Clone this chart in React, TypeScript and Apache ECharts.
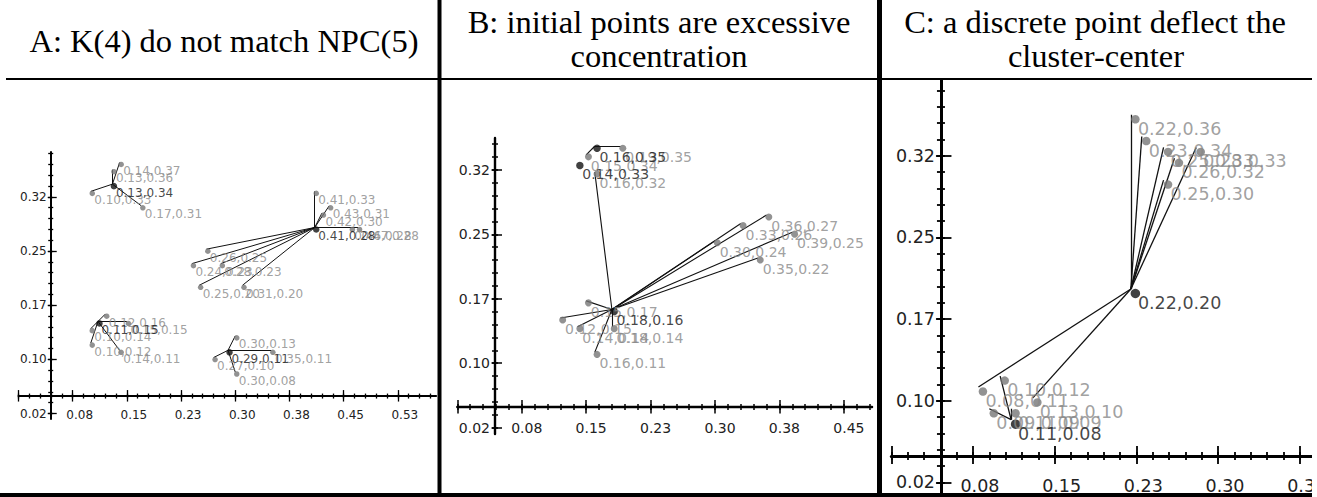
import { useEffect, useRef } from 'react';
import * as echarts from 'echarts';

// ---------- shared axis ticks ----------
const xMajorTicks = [0, 0.075, 0.15, 0.225, 0.3, 0.375, 0.45, 0.525];
const xTickLabels = ['', '0.08', '0.15', '0.23', '0.30', '0.38', '0.45', '0.53'];
const yMajorTicks = [0.0225, 0.0975, 0.1725, 0.2475, 0.3225, 0.3975];
const yTickLabels = ['0.02', '0.10', '0.17', '0.25', '0.32', '0.40'];
const minorStep = 0.015;

// ---------- titles ----------
const titleA = ['A: K(4) do not match NPC(5)'];
const titleB = ['B: initial points are excessive', 'concentration'];
const titleC = ['C: a discrete point deflect the', 'cluster-center'];

// ---------- panel A ----------
const aCenters = [[0.13, 0.34], [0.41, 0.28], [0.11, 0.15], [0.29, 0.11]];
const aPoints = [
  [0.14, 0.37], [0.13, 0.36], [0.10, 0.33], [0.17, 0.31],
  [0.41, 0.33], [0.43, 0.31], [0.42, 0.30], [0.46, 0.28], [0.47, 0.28],
  [0.26, 0.25], [0.24, 0.23], [0.28, 0.23], [0.25, 0.20], [0.31, 0.20],
  [0.15, 0.15], [0.12, 0.16], [0.10, 0.14], [0.10, 0.12], [0.14, 0.11],
  [0.30, 0.13], [0.27, 0.10], [0.30, 0.08], [0.35, 0.11],
];
const aAssign = [0, 0, 0, 0, 1, 1, 1, 1, 1, 1, 1, 1, 1, 1, 2, 2, 2, 2, 2, 3, 3, 3, 3];

// ---------- panel B ----------
const bCenters = [[0.16, 0.35], [0.14, 0.33], [0.18, 0.16]];
const bPoints = [
  [0.19, 0.35], [0.15, 0.34],
  [0.16, 0.32], [0.36, 0.27], [0.33, 0.26], [0.39, 0.25], [0.30, 0.24], [0.35, 0.22],
  [0.15, 0.17], [0.12, 0.15], [0.14, 0.14], [0.18, 0.14], [0.16, 0.11],
];
const bAssign = [0, 0, 2, 2, 2, 2, 2, 2, 2, 2, 2, 2, 2];

// ---------- panel C ----------
const cCenters = [[0.22, 0.20], [0.11, 0.08]];
const cPoints = [
  [0.22, 0.36], [0.23, 0.34], [0.25, 0.33], [0.26, 0.32], [0.28, 0.33], [0.25, 0.30],
  [0.08, 0.11], [0.13, 0.10],
  [0.10, 0.12], [0.09, 0.09], [0.11, 0.09],
];
const cAssign = [0, 0, 0, 0, 0, 0, 0, 0, 1, 1, 1];

// ---------- layout / style (no data) ----------
const FONT = 'DejaVu Sans';
const SERIF = '"Liberation Serif", "Times New Roman", serif';
const panelCfg = [
  { x0: 18.5, y0: 429.8, k: 722.5, xmax: 0.578, ymin: 0.015, ymax: 0.3846, yCross: 0.0446, xCross: 0.0467,
    axisFont: 12, ptFont: 12, lblDx: 3.5, lblDy: 8.5, dotOff: [1.5, 2], dot: 5.5, cdot: 6.5, lineW: 1,
    xLabMargin: 13, yLabMargin: 4, xLabShift: 7, tickLen: 2.5, xMajIn: 6, xMajOut: 5.5, yMajIn: 6, yMajOut: 3, axisW: 2, tickW: 1.3 },
  { x0: 457.3, y0: 446.9, k: 859, xmax: 0.4828, ymin: 0.015, ymax: 0.3596, yCross: 0.0439, xCross: 0.0464,
    axisFont: 14, ptFont: 14, lblDx: 4.7, lblDy: 11, dotOff: [2.3, 2], dot: 7, cdot: 7.5, lineW: 1.1,
    xLabMargin: 14, yLabMargin: 5, xLabShift: 5, tickLen: 3, xMajIn: 7, xMajOut: 6.5, yMajIn: 7, yMajOut: 3.5, axisW: 2.4, tickW: 1.5 },
  { x0: 891.3, y0: 506.8, k: 1089, xmax: 0.391, ymin: 0.012, ymax: 0.40, yCross: 0.0456, xCross: 0.0466,
    axisFont: 17.5, ptFont: 17.5, lblDx: 7, lblDy: 14, dotOff: [4.5, 4.5], dot: 8.5, cdot: 9.5, lineW: 1.3,
    xLabMargin: 21, yLabMargin: 6, xLabShift: 7, tickLen: 4, xMajIn: 10, xMajOut: 8, yMajIn: 10.5, yMajOut: 5, axisW: 3, tickW: 1.8 },
];

function near(list: number[], v: number) {
  return list.findIndex((m) => Math.abs(m - v) < 1e-6);
}
function fmt(p: number[]) {
  return p[0].toFixed(2) + ',' + p[1].toFixed(2);
}

function buildOption() {
  const grid: any[] = [];
  const xAxis: any[] = [];
  const yAxis: any[] = [];
  const series: any[] = [];
  const panels = [
    { c: panelCfg[0], centers: aCenters, points: aPoints, assign: aAssign },
    { c: panelCfg[1], centers: bCenters, points: bPoints, assign: bAssign },
    { c: panelCfg[2], centers: cCenters, points: cPoints, assign: cAssign },
  ];
  panels.forEach((p, i) => {
    const c = p.c;
    grid.push({
      left: c.x0, top: c.y0 - c.k * c.ymax, width: c.k * c.xmax, height: c.k * (c.ymax - c.ymin),
      containLabel: false, outerBoundsMode: 'none', show: false,
    });
    const xMaj = xMajorTicks.filter((v) => v <= c.xmax + 1e-9);
    const xAll: number[] = [];
    for (let j = 0; j * minorStep <= c.xmax + 1e-9; j++) xAll.push(+(j * minorStep).toFixed(5));
    const yMaj = yMajorTicks.filter((v) => v >= c.ymin - 1e-9 && v <= c.ymax + 1e-9);
    const yAll: number[] = [];
    for (let j = 0; yMajorTicks[0] + j * minorStep <= c.ymax + 1e-9; j++) yAll.push(+(yMajorTicks[0] + j * minorStep).toFixed(5));
    const xOff = -(c.k * (c.xCross - c.ymin));
    const yOff = -(c.k * c.yCross);
    const base = { type: 'value', gridIndex: i, splitLine: { show: false }, silent: true };
    const xb = { ...base, min: 0, max: c.xmax, position: 'bottom', offset: xOff };
    const yb = { ...base, min: c.ymin, max: c.ymax, position: 'left', offset: yOff };
    const tickStyle = { color: '#000', width: c.tickW };
    const noLine = { show: false, onZero: false };
    xAxis.push({
      ...xb,
      axisLine: { show: true, onZero: false, lineStyle: { color: '#000', width: c.axisW } },
      axisTick: { show: true, inside: false, length: c.xMajOut, customValues: xMaj, lineStyle: tickStyle },
      axisLabel: {
        show: true, customValues: xMaj.filter((v) => v > 0),
        formatter: (v: number) => xTickLabels[near(xMajorTicks, v)] ?? '',
        margin: c.xLabMargin, color: '#222', fontFamily: FONT, fontSize: c.axisFont,
        padding: [0, 0, 0, 2 * c.xLabShift],
      },
    });
    xAxis.push({ ...xb, axisLine: noLine, axisLabel: { show: false },
      axisTick: { show: true, inside: false, length: c.tickLen, customValues: xAll, lineStyle: tickStyle } });
    xAxis.push({ ...xb, axisLine: noLine, axisLabel: { show: false },
      axisTick: { show: true, inside: true, length: c.tickLen, customValues: xAll, lineStyle: tickStyle } });
    xAxis.push({ ...xb, axisLine: noLine, axisLabel: { show: false },
      axisTick: { show: true, inside: true, length: c.xMajIn, customValues: xMaj, lineStyle: tickStyle } });

    yAxis.push({
      ...yb,
      axisLine: { show: true, onZero: false, lineStyle: { color: '#000', width: c.axisW } },
      axisTick: { show: true, inside: false, length: c.yMajOut, customValues: yMaj, lineStyle: tickStyle },
      axisLabel: {
        show: true, customValues: yMaj,
        formatter: (v: number) => yTickLabels[near(yMajorTicks, v)] ?? '',
        margin: c.yLabMargin, color: '#222', fontFamily: FONT, fontSize: c.axisFont,
      },
    });
    yAxis.push({ ...yb, axisLine: noLine, axisLabel: { show: false },
      axisTick: { show: true, inside: false, length: c.tickLen, customValues: yAll, lineStyle: tickStyle } });
    yAxis.push({ ...yb, axisLine: noLine, axisLabel: { show: false },
      axisTick: { show: true, inside: true, length: c.tickLen, customValues: yAll, lineStyle: tickStyle } });
    yAxis.push({ ...yb, axisLine: noLine, axisLabel: { show: false },
      axisTick: { show: true, inside: true, length: c.yMajIn, customValues: yMaj, lineStyle: tickStyle } });

    const ax = { xAxisIndex: 4 * i, yAxisIndex: 4 * i, silent: true };
    series.push({
      ...ax, type: 'lines', coordinateSystem: 'cartesian2d', z: 2,
      data: p.points.map((pt, j) => ({ coords: [p.centers[p.assign[j]], pt] })),
      lineStyle: { color: '#111', width: c.lineW, opacity: 1 },
    });
    series.push({
      ...ax, type: 'scatter', z: 3, data: p.points, symbol: 'circle', symbolSize: c.dot,
      symbolOffset: c.dotOff, itemStyle: { color: '#777' },
    });
    series.push({
      ...ax, type: 'scatter', z: 4, data: p.centers, symbol: 'circle', symbolSize: c.cdot,
      symbolOffset: c.dotOff, itemStyle: { color: '#111' },
    });
    series.push({
      ...ax, type: 'scatter', z: 5, data: p.points, symbol: 'circle', symbolSize: 1,
      itemStyle: { color: 'rgba(0,0,0,0)' },
      label: {
        show: true, position: [c.lblDx + 0.5, c.lblDy + 0.5], align: 'left', verticalAlign: 'middle',
        formatter: (d: any) => fmt(d.value), color: '#888', fontFamily: FONT, fontSize: c.ptFont,
      },
    });
    series.push({
      ...ax, type: 'scatter', z: 6, data: p.centers, symbol: 'circle', symbolSize: 1,
      itemStyle: { color: 'rgba(0,0,0,0)' },
      label: {
        show: true, position: [c.lblDx + 0.5, c.lblDy + 0.5], align: 'left', verticalAlign: 'middle',
        formatter: (d: any) => fmt(d.value), color: '#151515', fontFamily: FONT, fontSize: c.ptFont,
      },
    });
  });

  const titleFont = 32.5;
  const mkText = (t: string, x: number, y: number) => ({
    type: 'text', x, y, z: 70, silent: true,
    style: {
      text: t, fill: '#000', font: `${titleFont}px ${SERIF}`, fontSize: titleFont, fontFamily: SERIF,
      textAlign: 'center', textVerticalAlign: 'middle', align: 'center', verticalAlign: 'middle',
    },
  });
  const rect = (x: number, y: number, w: number, h: number, fill: string, z: number) => ({
    type: 'rect', z, silent: true, shape: { x, y, width: w, height: h }, style: { fill },
  });
  const graphicEls: any[] = [
    rect(0, 0, 1317, 78, '#fff', 50),
    rect(1312, 0, 5, 497, '#fff', 50),
    rect(6, 78, 1306, 2, '#000', 60),
    rect(437.5, 0, 4, 497, '#000', 60),
    rect(877, 0, 5, 497, '#000', 60),
    rect(0, 493, 1312, 4, '#000', 60),
    mkText(titleA[0], 224, 41),
    mkText(titleB[0], 659, 22),
    mkText(titleB[1], 659, 56),
    mkText(titleC[0], 1095, 22),
    mkText(titleC[1], 1096, 56),
  ];

  return {
    animation: false,
    backgroundColor: '#fff',
    grid, xAxis, yAxis, series,
    graphic: { elements: graphicEls },
  };
}

export default function App() {
  const ref = useRef<HTMLDivElement>(null);
  useEffect(() => {
    const chart = echarts.init(ref.current as HTMLDivElement, undefined, { renderer: 'svg', width: 1317, height: 497 });
    chart.setOption(buildOption() as any);
    return () => chart.dispose();
  }, []);
  return (
    <div
      ref={ref}
      style={{ position: 'fixed', left: 0, top: 0, width: 1317, height: 497, background: '#fff' }}
    />
  );
}
